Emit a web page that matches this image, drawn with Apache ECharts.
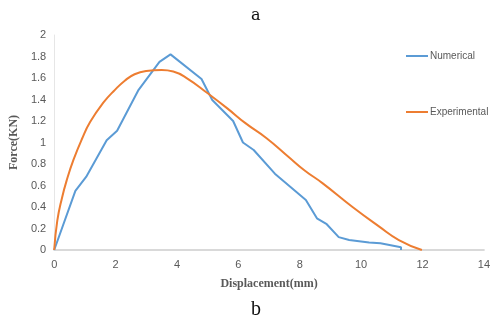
<!DOCTYPE html>
<html><head><meta charset="utf-8">
<script src="https://cdn.jsdelivr.net/npm/echarts@6/dist/echarts.min.js"></script>
<style>html,body{margin:0;padding:0;background:#fff}#c{width:493px;height:320px}</style>
</head><body><div id="c"></div>
<script>
const numX = [0, 0.69, 1.04, 1.71, 2.05, 2.75, 3.43, 3.79, 4.8, 5.15, 5.83, 6.15, 6.5, 7.19, 8.2, 8.56, 8.88, 9.27, 9.61, 10.26, 10.63, 11.3, 11.3];
const numY = [0, 0.55, 0.68, 1.02, 1.11, 1.49, 1.75, 1.82, 1.59, 1.395, 1.2, 1.0, 0.93, 0.71, 0.465, 0.295, 0.24, 0.12, 0.093, 0.07, 0.062, 0.025, 0];
const expX = [0, 0.1, 0.25, 0.42, 0.63, 0.9, 1.17, 1.6, 1.98, 2.3, 2.62, 3.0, 3.5, 3.88, 4.34, 4.99, 5.63, 6.23, 6.92, 7.62, 8.16, 8.75, 9.72, 10.58, 11.23, 11.98];
const expY = [0, 0.27, 0.48, 0.66, 0.84, 1.03, 1.19, 1.37, 1.49, 1.575, 1.635, 1.665, 1.674, 1.66, 1.595, 1.46, 1.32, 1.18, 1.04, 0.87, 0.74, 0.62, 0.40, 0.22, 0.093, 0];
const xTicks = {min: 0, max: 14, interval: 2};
const yTicks = {min: 0, max: 2, interval: 0.2};
const seriesNames = ['Numerical', 'Experimental'];

const chart = echarts.init(document.getElementById('c'), null, {renderer: 'canvas'});
const lbl = {color: '#595959', fontSize: 11, fontFamily: 'Liberation Sans'};
chart.setOption({
  animation: false,
  color: ['#5b9bd5', '#ed7d31'],
  grid: {left: 52, right: 7, top: 35, bottom: 70, containLabel: false},
  title: [
    {text: 'a', left: 246, top: 3, textStyle: {fontFamily: 'DejaVu Serif', fontWeight: 'normal', fontSize: 16, color: '#111'}},
    {text: 'b', left: 246, top: 295, textStyle: {fontFamily: 'Liberation Serif', fontWeight: 'normal', fontSize: 20, color: '#111'}}
  ],
  legend: {
    orient: 'vertical', left: 401, top: 46, itemGap: 46,
    itemWidth: 22, itemHeight: 2, icon: 'rect',
    textStyle: {color: '#595959', fontSize: 10, fontFamily: 'Liberation Sans', padding: [0, 0, 0, -3]},
    data: seriesNames
  },
  xAxis: {
    type: 'value', min: xTicks.min, max: xTicks.max, interval: xTicks.interval,
    name: 'Displacement(mm)', nameLocation: 'middle', nameGap: 28,
    nameTextStyle: {fontFamily: 'Liberation Serif', fontWeight: 'bold', fontSize: 12, color: '#595959'},
    axisLine: {show: true, lineStyle: {color: '#d9d9d9', width: 2}},
    axisTick: {show: false}, splitLine: {show: false},
    axisLabel: Object.assign({margin: 9}, lbl)
  },
  yAxis: {
    type: 'value', min: yTicks.min, max: yTicks.max, interval: yTicks.interval,
    name: 'Force(KN)', nameLocation: 'middle', nameGap: 24, nameRotate: 90,
    nameTextStyle: {fontFamily: 'Liberation Serif', fontWeight: 'bold', fontSize: 12, color: '#595959'},
    axisLine: {show: true, lineStyle: {color: '#e6e6e6', width: 1}},
    axisTick: {show: false}, splitLine: {show: false},
    axisLabel: Object.assign({margin: 8}, lbl)
  },
  series: [
    {name: seriesNames[0], type: 'line', showSymbol: false, symbol: 'none',
     lineStyle: {width: 2}, data: numX.map((x, i) => [x, numY[i]])},
    {name: seriesNames[1], type: 'line', showSymbol: false, symbol: 'none', smooth: 0.5,
     lineStyle: {width: 2}, data: expX.map((x, i) => [x, expY[i]])}
  ]
});
</script></body></html>
